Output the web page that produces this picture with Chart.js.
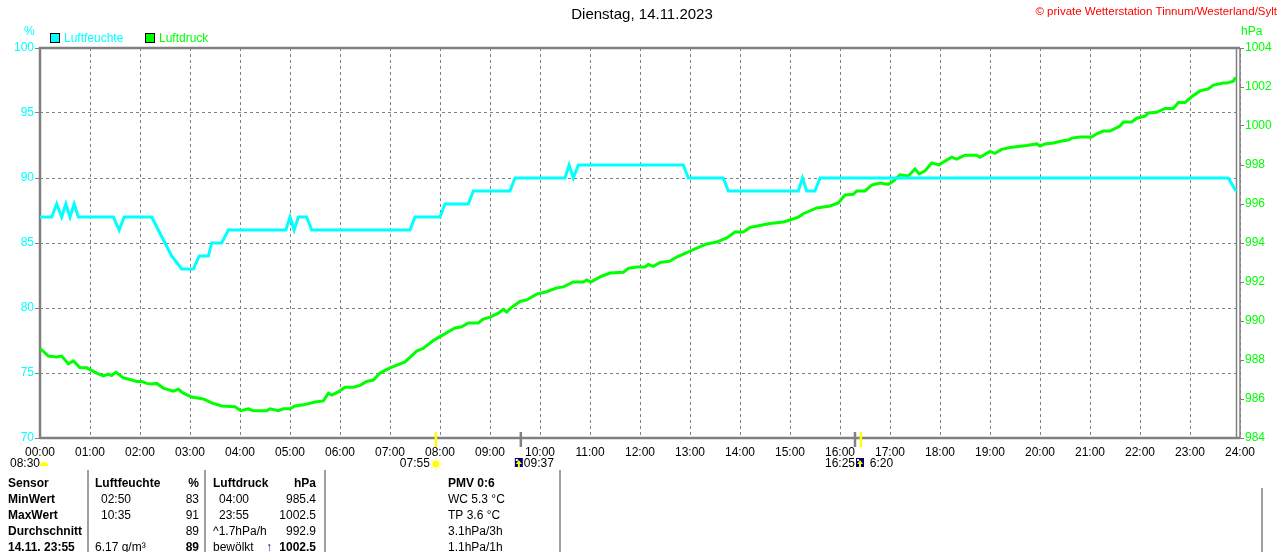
<!DOCTYPE html>
<html lang="de">
<head>
<meta charset="utf-8">
<title>Dienstag, 14.11.2023</title>
<script src="https://cdn.jsdelivr.net/npm/chart.js@4.4.0/dist/chart.umd.min.js"></script>
<style>
  html, body { margin: 0; padding: 0; background: #fff; }
  canvas { display: block; }
</style>
</head>
<body>
<canvas id="wetterChart" width="1280" height="552"></canvas>
<script>
// --- Messwerte (Minuten seit 00:00) ---
const humTimes = [0, 14, 20, 26, 31, 36, 41, 46, 88, 95, 101, 134, 142, 150, 158, 170, 184, 191, 202, 206, 218, 226,
  295, 300, 305, 310, 320, 326, 444, 450, 480, 486, 514, 520, 564, 570, 630, 635, 640, 646, 772, 778, 820, 826,
  910, 915, 920, 930, 936, 1426, 1435];
const humValues = [87, 87, 88, 87, 88, 87, 88, 87, 87, 86, 87, 87, 86, 85, 84, 83, 83, 84, 84, 85, 85, 86,
  86, 87, 86, 87, 87, 86, 86, 87, 87, 88, 88, 89, 89, 90, 90, 91, 90, 91, 91, 90, 90, 89,
  89, 90, 89, 89, 90, 90, 89];

const pressTimes = [0, 10, 20, 26, 34, 40, 48, 56, 68, 76, 82, 86, 91, 100, 108, 116, 122, 128, 134, 140,
  148, 160, 166, 172, 182, 196, 206, 218, 234, 241, 250, 256, 272, 276, 286, 292, 300, 306, 316, 330,
  340, 346, 350, 358, 366, 376, 384, 392, 400, 408, 420, 438, 452, 460, 472, 480, 498, 506, 514, 526,
  532, 540, 550, 556, 560, 566, 576, 584, 596, 608, 620, 628, 640, 652, 656, 661, 672, 684, 700, 706,
  716, 726, 730, 736, 744, 756, 764, 776, 788, 800, 812, 824, 834, 844, 852, 864, 876, 892, 900, 910,
  916, 932, 948, 958, 966, 976, 980, 990, 998, 1008, 1018, 1024, 1032, 1042, 1050, 1055, 1062, 1070, 1079, 1086,
  1094, 1100, 1110, 1124, 1128, 1140, 1146, 1154, 1164, 1184, 1196, 1200, 1206, 1216, 1226, 1234, 1238, 1248, 1262, 1268,
  1276, 1284, 1296, 1300, 1310, 1316, 1326, 1330, 1340, 1350, 1360, 1366, 1374, 1382, 1392, 1402, 1408, 1420, 1424, 1432,
  1435];
const pressValues = [988.6, 988.2, 988.15, 988.2, 987.8, 987.95, 987.6, 987.6, 987.33, 987.18,
  987.28, 987.2, 987.38, 987.08, 987.0, 986.9, 986.9, 986.8, 986.77, 986.8,
  986.56, 986.4, 986.5, 986.3, 986.1, 986.0, 985.8, 985.64, 985.6, 985.4,
  985.5, 985.4, 985.4, 985.5, 985.4, 985.5, 985.5, 985.64, 985.7, 985.85,
  985.9, 986.3, 986.2, 986.36, 986.6, 986.6, 986.7, 986.9, 986.97, 987.33,
  987.6, 987.9, 988.46, 988.6, 989.0, 989.2, 989.64, 989.7, 989.9, 989.9,
  990.1, 990.2, 990.4, 990.6, 990.46, 990.7, 991.0, 991.08, 991.38, 991.5,
  991.7, 991.75, 992.0, 992.0, 992.1, 992.0, 992.26, 992.46, 992.5, 992.7,
  992.77, 992.77, 992.9, 992.8, 993.0, 993.07, 993.28, 993.5, 993.74, 993.95,
  994.05, 994.26, 994.56, 994.56, 994.8, 994.9, 995.0, 995.08, 995.18, 995.33,
  995.5, 995.8, 995.9, 996.05, 996.46, 996.5, 996.67, 996.67, 996.97, 997.08,
  997.0, 997.18, 997.5, 997.44, 997.8, 997.54, 997.7, 998.1, 998.0, 998.2,
  998.4, 998.3, 998.5, 998.5, 998.4, 998.7, 998.6, 998.8, 998.9, 999.0,
  999.08, 998.97, 999.08, 999.13, 999.23, 999.28, 999.38, 999.44, 999.44, 999.6,
  999.74, 999.74, 1000.0, 1000.2, 1000.2, 1000.4, 1000.5, 1000.67, 1000.7, 1000.9,
  1000.9, 1001.2, 1001.2, 1001.5, 1001.8, 1001.9, 1002.1, 1002.2, 1002.2, 1002.3,
  1002.5];

// --- Achsen ---
const humTicks = { min: 70, max: 100, step: 5 };
const pressTicks = { min: 984, max: 1004, step: 2 };
const hourStep = 60;

// --- Sonne / Mond (Minuten) ---
const sunrise = 475;   // 07:55
const sunset = 985;    // 16:25
const moonrise = 577;  // 09:37
const moonset = 978;

// --- Tabelle unten ---
const tableLabels = ['Sensor', 'MinWert', 'MaxWert', 'Durchschnitt', '14.11. 23:55'];
const humCol1 = ['Luftfeuchte', '02:50', '10:35', '', '6.17 g/m³'];
const humCol2 = ['%', '83', '91', '89', '89'];
const pressCol1 = ['Luftdruck', '04:00', '23:55', '^1.7hPa/h', 'bewölkt'];
const pressCol2 = ['hPa', '985.4', '1002.5', '992.9', '1002.5'];
const pmvCol = ['PMV 0:6', 'WC 5.3 °C', 'TP 3.6 °C', '3.1hPa/3h', '1.1hPa/1h'];

const FAMILY = '"Liberation Sans", Arial, sans-serif';
const CYAN = '#00ffff';
const GREEN = '#00ff00';
const GRAY = '#808080';

function pad2(n) { return (n < 10 ? '0' : '') + n; }
function font(size, bold) { return (bold ? 'bold ' : '') + size + 'px ' + FAMILY; }

const humData = humTimes.map((t, i) => ({ x: t, y: humValues[i] }));
const pressData = pressTimes.map((t, i) => ({ x: t, y: pressValues[i] }));

// Rahmen, Beschriftungen, Legende und Tabelle
const decorations = {
  id: 'decorations',
  beforeDatasetsDraw(chart) {
    const { ctx, chartArea: a } = chart;
    ctx.save();
    ctx.strokeStyle = GRAY;
    ctx.lineWidth = 2.5;
    ctx.beginPath();
    ctx.moveTo(a.left, a.bottom); ctx.lineTo(a.left, a.top); ctx.lineTo(a.right, a.top);
    ctx.moveTo(a.left, a.bottom); ctx.lineTo(a.right, a.bottom);
    ctx.stroke();
    ctx.lineWidth = 1.5;
    ctx.beginPath();
    ctx.moveTo(a.right - 3.5, a.top); ctx.lineTo(a.right - 3.5, a.bottom);
    ctx.moveTo(a.right, a.top); ctx.lineTo(a.right, a.bottom);
    ctx.stroke();
    ctx.restore();
  },
  afterDraw(chart) {
    const { ctx, chartArea: a } = chart;
    const xs = chart.scales.x;
    ctx.save();
    ctx.textBaseline = 'middle';

    // Titel und Copyright
    ctx.fillStyle = '#000';
    ctx.font = font(15);
    ctx.textAlign = 'center';
    ctx.fillText('Dienstag, 14.11.2023', 642, 15);
    ctx.fillStyle = '#ff0000';
    ctx.font = font(11.5);
    ctx.textAlign = 'right';
    ctx.fillText('© private Wetterstation Tinnum/Westerland/Sylt', 1277, 12);

    // Einheiten
    ctx.font = font(12);
    ctx.textAlign = 'left';
    ctx.fillStyle = CYAN;
    ctx.fillText('%', 24, 32);
    ctx.fillStyle = GREEN;
    ctx.fillText('hPa', 1241, 32);

    // Legende
    let lx = 50;
    chart.data.datasets.forEach(ds => {
      ctx.fillStyle = ds.borderColor;
      ctx.fillRect(lx, 33, 10, 10);
      ctx.strokeStyle = '#000';
      ctx.lineWidth = 1;
      ctx.strokeRect(lx + 0.5, 33.5, 9, 9);
      ctx.font = font(12);
      ctx.fillText(ds.label, lx + 14, 38.5);
      lx += 95;
    });

    // Sonne/Mond-Markierungen
    const mark = (t, color) => {
      const px = xs.getPixelForValue(t);
      ctx.strokeStyle = color;
      ctx.lineWidth = 2.5;
      ctx.beginPath();
      ctx.moveTo(px, a.bottom - 6); ctx.lineTo(px, a.bottom + 9);
      ctx.stroke();
      return px;
    };
    const moonIcon = (x, y) => {
      ctx.fillStyle = '#000080';
      ctx.fillRect(x, y, 8, 9);
      ctx.fillStyle = '#ffffff';
      ctx.fillRect(x + 1, y + 1, 2, 2);
      ctx.fillStyle = '#ffff00';
      ctx.beginPath();
      ctx.moveTo(x + 4, y + 2); ctx.lineTo(x + 7, y + 6); ctx.lineTo(x + 1, y + 6);
      ctx.fill();
      ctx.fillRect(x + 3, y + 6, 2, 3);
    };
    const pxRise = mark(sunrise, '#ffff00');
    const pxMoonRise = mark(moonrise, GRAY);
    const pxMoonSet = mark(moonset, GRAY);
    const pxSet = mark(sunset, '#ffff00');

    ctx.font = font(12);
    ctx.fillStyle = '#000';
    ctx.textAlign = 'left';
    ctx.fillText('08:30', 10, 464);
    ctx.fillStyle = '#ffff00';
    ctx.beginPath();
    ctx.arc(44, 466, 4, Math.PI, 0);
    ctx.fill();

    ctx.fillStyle = '#000';
    ctx.textAlign = 'right';
    ctx.fillText('07:55', pxRise - 6, 464);
    ctx.fillStyle = '#ffff00';
    ctx.beginPath();
    ctx.arc(pxRise, 464, 3.5, 0, Math.PI * 2);
    ctx.fill();
    ctx.strokeStyle = '#ffee66';
    ctx.lineWidth = 1;
    for (let k = 0; k < 8; k++) {
      const ang = k * Math.PI / 4;
      ctx.beginPath();
      ctx.moveTo(pxRise + Math.cos(ang) * 4.5, 464 + Math.sin(ang) * 4.5);
      ctx.lineTo(pxRise + Math.cos(ang) * 6.5, 464 + Math.sin(ang) * 6.5);
      ctx.stroke();
    }

    moonIcon(pxMoonRise - 6, 458);
    ctx.fillStyle = '#000';
    ctx.textAlign = 'left';
    ctx.fillText('09:37', pxMoonRise + 3, 464);

    ctx.textAlign = 'right';
    ctx.fillText('16:25', pxMoonSet, 464);
    moonIcon(pxMoonSet + 1, 458);
    ctx.fillStyle = '#000';
    ctx.textAlign = 'left';
    ctx.fillText('6:20', pxSet + 9, 464);

    // Tabelle
    ctx.strokeStyle = GRAY;
    ctx.lineWidth = 1.5;
    ctx.beginPath();
    [88, 205, 325, 560].forEach(x => { ctx.moveTo(x, 470); ctx.lineTo(x, 552); });
    ctx.moveTo(1262, 488); ctx.lineTo(1262, 552);
    ctx.stroke();

    const rowY = [484, 500, 516, 532, 548];
    ctx.fillStyle = '#000';
    rowY.forEach((y, r) => {
      const head = r === 0;
      ctx.textAlign = 'left';
      ctx.font = font(12, true);
      ctx.fillText(tableLabels[r], 8, y);
      ctx.font = font(12, head);
      const indent = (r === 1 || r === 2) ? 6 : 0;
      ctx.fillText(humCol1[r], 95 + indent, y);
      ctx.fillText(pressCol1[r], 213 + indent, y);
      ctx.fillText(pmvCol[r], 448, y);
      ctx.textAlign = 'right';
      ctx.font = font(12, head || r === 4);
      ctx.fillText(humCol2[r], 199, y);
      ctx.fillText(pressCol2[r], 316, y);
    });
    ctx.font = font(12, true);
    ctx.textAlign = 'left';
    ctx.fillStyle = '#000080';
    ctx.fillText('↑', 266, 548);
    ctx.restore();
  }
};

const chart = new Chart(document.getElementById('wetterChart'), {
  type: 'line',
  data: {
    datasets: [
      {
        label: 'Luftfeuchte',
        data: humData,
        yAxisID: 'y',
        borderColor: CYAN,
        backgroundColor: CYAN,
        borderWidth: 3,
        pointRadius: 0,
        tension: 0,
        fill: false
      },
      {
        label: 'Luftdruck',
        data: pressData,
        yAxisID: 'y2',
        borderColor: GREEN,
        backgroundColor: GREEN,
        borderWidth: 3,
        pointRadius: 0,
        tension: 0,
        fill: false
      }
    ]
  },
  options: {
    responsive: false,
    animation: false,
    devicePixelRatio: 1,
    layout: { padding: { top: 48, left: 0, right: 0, bottom: 0 } },
    plugins: {
      legend: { display: false },
      title: { display: false },
      tooltip: { enabled: false }
    },
    scales: {
      x: {
        type: 'linear',
        position: 'bottom',
        min: 0,
        max: 1440,
        afterFit: s => { s.height = 114; },
        ticks: {
          stepSize: hourStep,
          autoSkip: false,
          maxRotation: 0,
          padding: 7,
          color: '#000',
          font: { family: FAMILY, size: 12 },
          callback: v => pad2(v / 60) + ':00'
        },
        grid: { color: GRAY, lineWidth: 1, drawTicks: false },
        border: { display: false, dash: [3, 3] }
      },
      y: {
        position: 'left',
        min: humTicks.min,
        max: humTicks.max,
        afterFit: s => { s.width = 40; },
        ticks: {
          stepSize: humTicks.step,
          padding: 1,
          color: CYAN,
          font: { family: FAMILY, size: 12 },
          callback: v => String(v)
        },
        grid: { color: GRAY, lineWidth: 1, tickLength: 5, tickColor: GRAY, tickWidth: 1 },
        border: { display: false, dash: [3, 3] }
      },
      y2: {
        position: 'right',
        min: pressTicks.min,
        max: pressTicks.max,
        afterFit: s => { s.width = 40; },
        ticks: {
          stepSize: pressTicks.step,
          padding: 1,
          color: GREEN,
          font: { family: FAMILY, size: 12 },
          callback: v => String(v)
        },
        grid: { drawOnChartArea: false, tickLength: 4, tickColor: GRAY, tickWidth: 1 },
        border: { display: false }
      }
    }
  },
  plugins: [decorations]
});
</script>
</body>
</html>
